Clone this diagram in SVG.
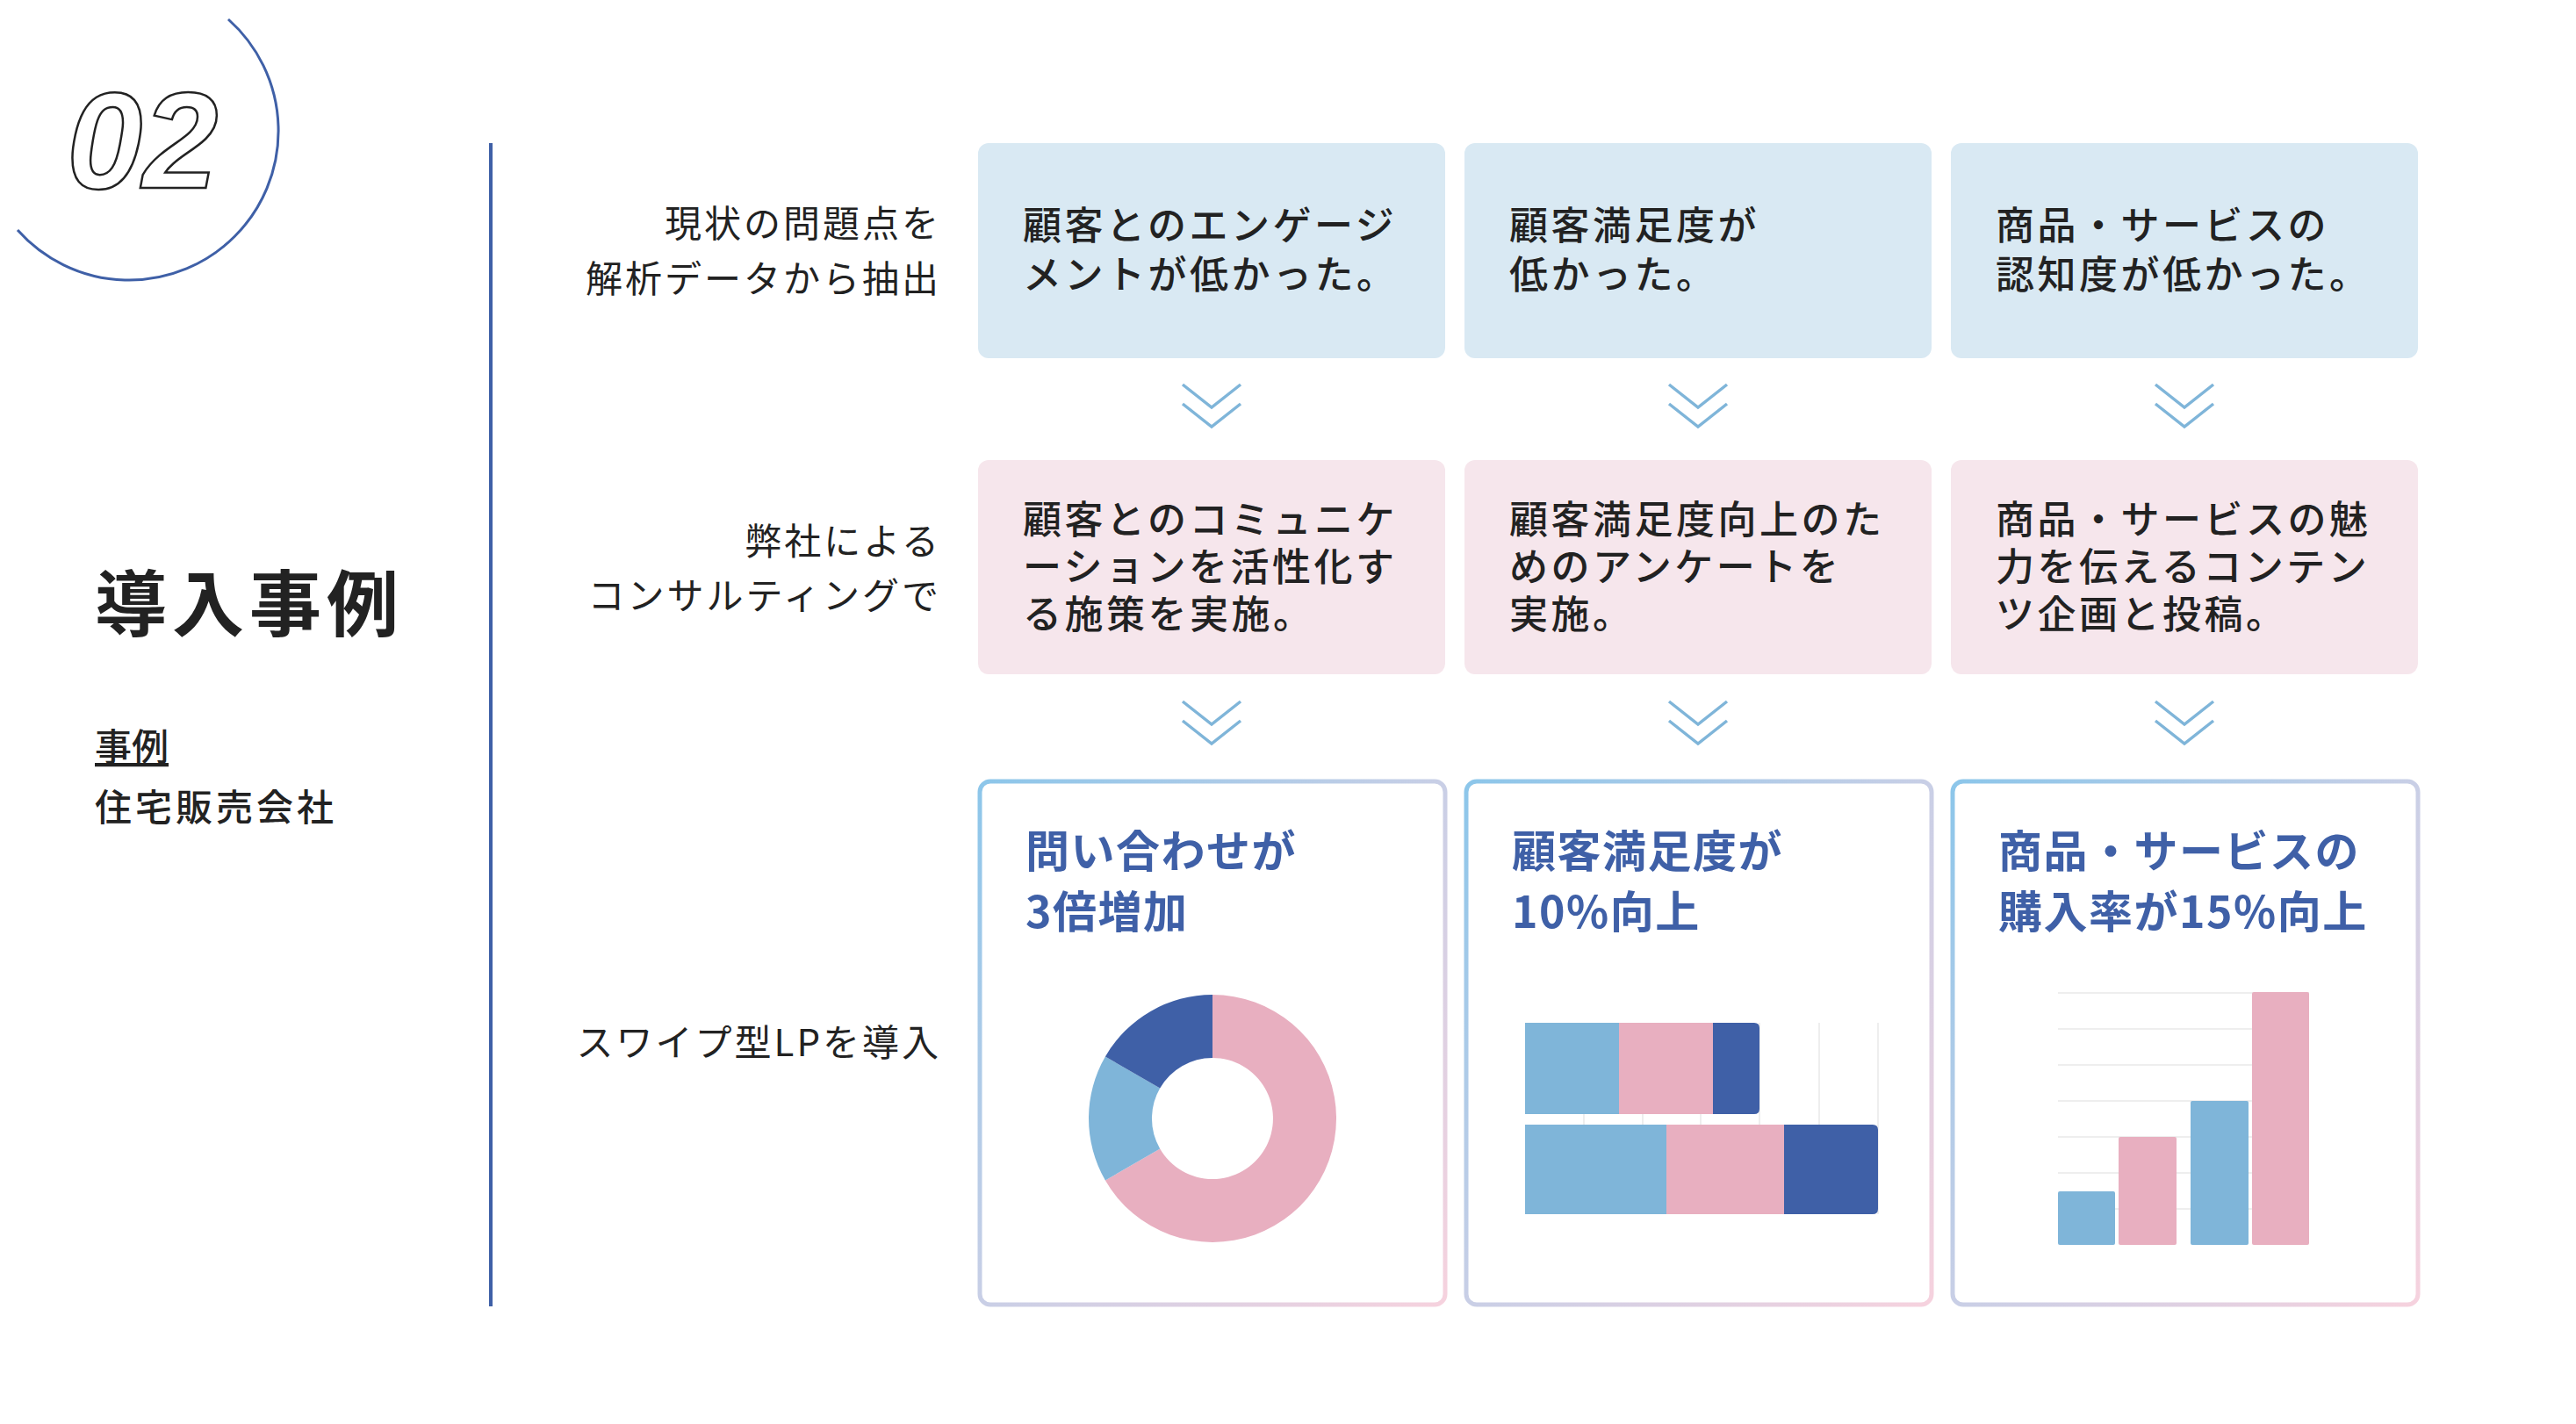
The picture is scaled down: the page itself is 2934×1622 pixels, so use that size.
<svg xmlns="http://www.w3.org/2000/svg" width="2934" height="1622" viewBox="0 0 2934 1622">
<style>
.jp{font-family:"Noto Sans CJK JP","Noto Sans",sans-serif}
.lbl{font-size:42px;fill:#222;letter-spacing:3px;text-anchor:end}
.bx{font-size:44px;fill:#222;font-weight:500;letter-spacing:3.5px}
.ttl{font-size:50px;fill:#3f60a7;font-weight:700;letter-spacing:1.5px}
.c1{fill:#d9e9f3}.c2{fill:#f6e6ec}
.chev{fill:none;stroke:#7fb5d9;stroke-width:3.5}
.lb{fill:#7fb5d9}.pk{fill:#e8afc0}.db{fill:#3f60a7}
.grid{stroke:#eeeeee;stroke-width:2}
.card{fill:#fff;stroke:url(#g);stroke-width:5}
</style>
<defs>
<linearGradient id="g" x1="0" y1="0" x2="1" y2="1">
<stop offset="0" stop-color="#8cc6ea"/><stop offset="0.5" stop-color="#c9cfe6"/><stop offset="1" stop-color="#f6d2de"/>
</linearGradient>
</defs>
<rect width="2934" height="1622" fill="#fff"/>
<g id="header">
<path d="M260,22 A170,170 0 1 1 20,262" fill="none" stroke="#3f60a7" stroke-width="3"/>
<text x="76" y="214" font-family="Liberation Sans,Arial,sans-serif" font-style="italic" font-weight="700" font-size="155" fill="none" stroke="#222" stroke-width="2.5">02</text>
<text class="jp" x="108" y="718" font-size="82" font-weight="700" fill="#222" letter-spacing="6">導入事例</text>
<text class="jp" x="108" y="866" font-size="42" font-weight="500" fill="#222" text-decoration="underline">事例</text>
<text class="jp" x="108" y="935" font-size="42" font-weight="500" fill="#222" letter-spacing="4">住宅販売会社</text>
<line x1="559" y1="163" x2="559" y2="1488" stroke="#3f60a7" stroke-width="4"/>
</g>
<g id="labels" class="jp">
<text class="lbl" x="1072" y="270">現状の問題点を</text>
<text class="lbl" x="1072" y="333">解析データから抽出</text>
<text class="lbl" x="1072" y="632">弊社による</text>
<text class="lbl" x="1072" y="694">コンサルティングで</text>
<text class="lbl" x="1072" y="1203">スワイプ型LPを導入</text>
</g>
<g id="row1" class="jp">
<rect class="c1" x="1114" y="163" width="532" height="245" rx="12"/>
<rect class="c1" x="1668" y="163" width="532" height="245" rx="12"/>
<rect class="c1" x="2222" y="163" width="532" height="245" rx="12"/>
<text class="bx" x="1165" y="273">顧客とのエンゲージ</text>
<text class="bx" x="1165" y="329">メントが低かった。</text>
<text class="bx" x="1719" y="273">顧客満足度が</text>
<text class="bx" x="1719" y="329">低かった。</text>
<text class="bx" x="2273" y="273">商品・サービスの</text>
<text class="bx" x="2273" y="329">認知度が低かった。</text>
</g>
<g id="row2" class="jp">
<rect class="c2" x="1114" y="524" width="532" height="244" rx="12"/>
<rect class="c2" x="1668" y="524" width="532" height="244" rx="12"/>
<rect class="c2" x="2222" y="524" width="532" height="244" rx="12"/>
<text class="bx" x="1165" y="608">顧客とのコミュニケ</text>
<text class="bx" x="1165" y="662">ーションを活性化す</text>
<text class="bx" x="1165" y="716">る施策を実施。</text>
<text class="bx" x="1719" y="608">顧客満足度向上のた</text>
<text class="bx" x="1719" y="662">めのアンケートを</text>
<text class="bx" x="1719" y="716">実施。</text>
<text class="bx" x="2273" y="608">商品・サービスの魅</text>
<text class="bx" x="2273" y="662">力を伝えるコンテン</text>
<text class="bx" x="2273" y="716">ツ企画と投稿。</text>
</g>
<g id="connectors">
<polyline class="chev" points="1347,438 1380,464 1413,438"/><polyline class="chev" points="1347,460 1380,486 1413,460"/>
<polyline class="chev" points="1901,438 1934,464 1967,438"/><polyline class="chev" points="1901,460 1934,486 1967,460"/>
<polyline class="chev" points="2455,438 2488,464 2521,438"/><polyline class="chev" points="2455,460 2488,486 2521,460"/>
<polyline class="chev" points="1347,799 1380,825 1413,799"/><polyline class="chev" points="1347,821 1380,847 1413,821"/>
<polyline class="chev" points="1901,799 1934,825 1967,799"/><polyline class="chev" points="1901,821 1934,847 1967,821"/>
<polyline class="chev" points="2455,799 2488,825 2521,799"/><polyline class="chev" points="2455,821 2488,847 2521,821"/>
</g>
<g id="card1" class="jp">
<rect class="card" x="1116" y="890" width="530" height="596" rx="12"/>
<text class="ttl" x="1168" y="988">問い合わせが</text>
<text class="ttl" x="1168" y="1057">3倍増加</text>
<path class="pk" d="M1381,1133 A141,141 0 1 1 1258.9,1344.5 L1321.2,1308.5 A69,69 0 1 0 1381,1205 Z"/>
<path class="lb" d="M1258.9,1344.5 A141,141 0 0 1 1258.9,1203.5 L1321.2,1239.5 A69,69 0 0 0 1321.2,1308.5 Z"/>
<path class="db" d="M1258.9,1203.5 A141,141 0 0 1 1381,1133 L1381,1205 A69,69 0 0 0 1321.2,1239.5 Z"/>
</g>
<g id="card2" class="jp">
<rect class="card" x="1670" y="890" width="530" height="596" rx="12"/>
<text class="ttl" x="1722" y="988">顧客満足度が</text>
<text class="ttl" x="1722" y="1057">10%向上</text>
<g class="grid"><line x1="1804" y1="1165" x2="1804" y2="1383"/><line x1="1871" y1="1165" x2="1871" y2="1383"/><line x1="1937" y1="1165" x2="1937" y2="1383"/><line x1="2004" y1="1165" x2="2004" y2="1383"/><line x1="2072" y1="1165" x2="2072" y2="1383"/><line x1="2139" y1="1165" x2="2139" y2="1383"/></g>
<rect class="lb" x="1737" y="1165" width="107" height="104"/>
<rect class="pk" x="1844" y="1165" width="107" height="104"/>
<path class="db" d="M1951,1165 H1998 Q2004,1165 2004,1171 V1263 Q2004,1269 1998,1269 H1951 Z"/>
<rect class="lb" x="1737" y="1281" width="161" height="102"/>
<rect class="pk" x="1898" y="1281" width="134" height="102"/>
<path class="db" d="M2032,1281 H2133 Q2139,1281 2139,1287 V1377 Q2139,1383 2133,1383 H2032 Z"/>
</g>
<g id="card3" class="jp">
<rect class="card" x="2224" y="890" width="530" height="596" rx="12"/>
<text class="ttl" x="2276" y="988">商品・サービスの</text>
<text class="ttl" x="2276" y="1057">購入率が15%向上</text>
<g class="grid"><line x1="2344" y1="1131" x2="2630" y2="1131"/><line x1="2344" y1="1172" x2="2630" y2="1172"/><line x1="2344" y1="1213" x2="2630" y2="1213"/><line x1="2344" y1="1254" x2="2630" y2="1254"/><line x1="2344" y1="1295" x2="2630" y2="1295"/><line x1="2344" y1="1336" x2="2630" y2="1336"/><line x1="2344" y1="1377" x2="2630" y2="1377"/></g>
<rect class="lb" x="2344" y="1357" width="65" height="61" rx="2"/>
<rect class="pk" x="2413" y="1295" width="66" height="123" rx="2"/>
<rect class="lb" x="2495" y="1254" width="66" height="164" rx="2"/>
<rect class="pk" x="2565" y="1130" width="65" height="288" rx="2"/>
</g>
</svg>
